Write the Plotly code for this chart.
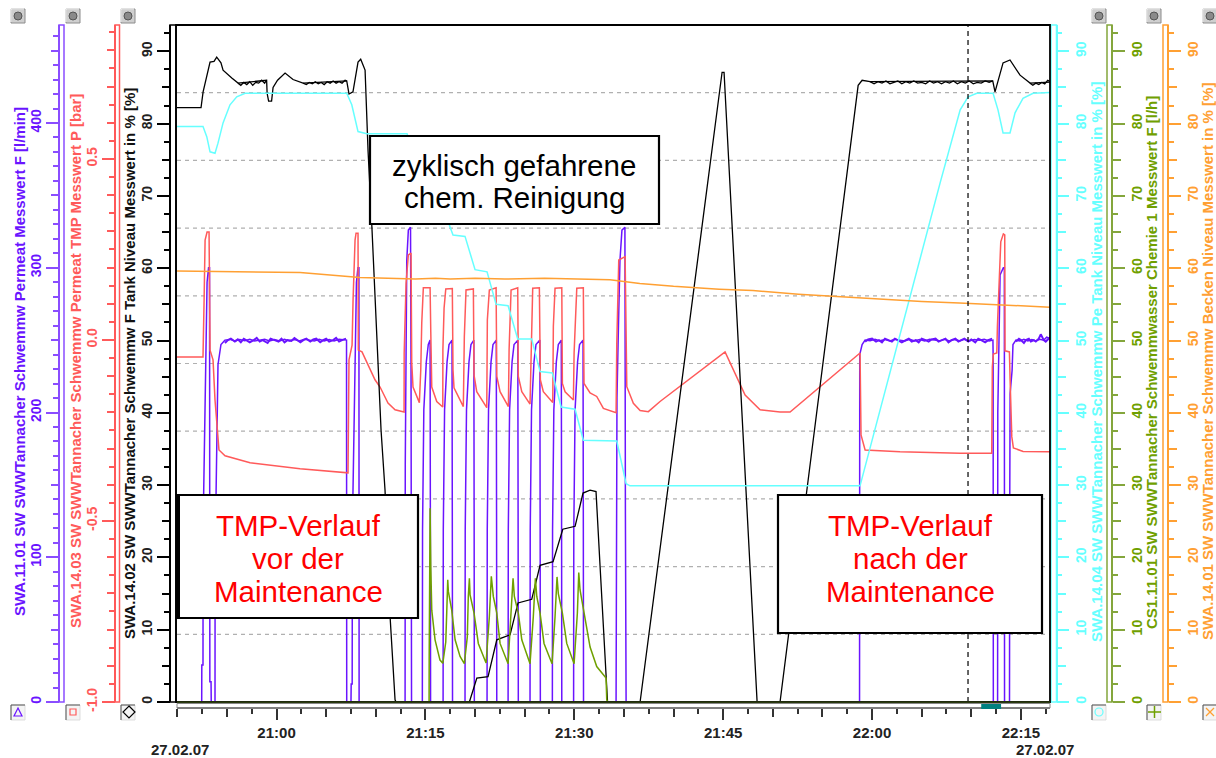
import plotly.graph_objects as go

W, H = 1216, 758
X_RANGE = [-10.03, 77.93]
TOP_PCT = 93.64

# ---- data (time in minutes after 21:00) ----
BLACK_T = [-10.03,-7.61,-7.4,-7.03,-6.7,-6.3,-6.03,-5.6,-5.39,-4.51,-3.88,-1.0,-0.95,-0.8,-0.5,-0.35,0.1,0.86,1.66,2.67,7.07,7.3,7.7,8.21,8.48,8.92,9.09,9.22,9.62,10.03,10.53,10.93,11.44,11.94,12.04,19.43,20.18,21.31,22.19,23.53,24.33,25.71,26.55,27.86,28.84,30.08,30.88,31.59,32.19,32.6,33.27,33.35,36.63,44.89,45.09,48.42,50.73,58.6,59.0,59.8,72.16,72.39,73.2,73.9,74.91,75.92,77.94]
BLACK_V = [82.2,82.2,84.4,86.5,88.5,88.6,89.2,88.4,87.4,86.3,85.6,86.0,84.2,83.1,83.1,85.0,86.0,87.0,86.1,85.6,85.9,84.1,84.4,88.5,88.9,87.4,80.4,76.2,65.3,52.8,37.6,29.3,11.8,0.3,0,0,3.3,3.5,8.6,9.3,13.7,14.2,18.9,19.4,23.9,24.3,28.9,29.3,29.1,18.7,0.3,0,0,87.1,87.1,0,0,85.3,86.0,85.8,85.9,84.4,88.4,88.8,86.7,85.6,85.75]

# Fine noise on the black level plateaus
BLACK_NOISE_A_T = [-3.88,-3.6,-3.3,-3.0,-2.7,-2.4,-2.1,-1.8,-1.5,-1.2,-1.0]
BLACK_NOISE_A_V = [85.6,85.3,85.7,85.4,85.8,85.3,85.7,85.6,86.0,85.6,86.0]
BLACK_NOISE_B_T = [2.67,3.0,3.3,3.6,3.9,4.2,4.5,4.8,5.1,5.4,5.7,6.0,6.3,6.6,6.9,7.07]
BLACK_NOISE_B_V = [85.6,85.4,85.7,85.5,85.8,85.5,85.7,85.4,85.8,85.6,85.9,85.6,85.8,85.6,86.0,85.9]
BLACK_NOISE_C_T = [59.8,60.2,60.6,61.0,61.4,61.8,62.2,62.6,63.0,63.4,63.8,64.2,64.6,65.0,65.4,65.8,66.2,66.6,67.0,67.4,67.8,68.2,68.6,69.0,69.4,69.8,70.2,70.6,71.0,71.4,71.8,72.16]
BLACK_NOISE_C_V = [85.8,85.5,85.8,85.6,85.9,85.5,85.7,85.9,85.5,85.8,85.6,85.9,85.6,85.7,85.5,85.9,85.6,85.8,85.5,85.8,85.6,85.9,85.5,85.8,85.6,85.9,85.5,85.7,85.6,85.9,85.7,85.9]
BLACK_NOISE_D_T = [75.92,76.2,76.5,76.8,77.1,77.4,77.7,77.94]
BLACK_NOISE_D_V = [85.6,85.3,85.6,85.4,85.7,85.5,86.0,85.8]

CYAN_T = [-10.03,-7.41,-7.03,-6.7,-6.2,-5.9,-5.39,-4.69,-4.01,-3.17,7.07,7.58,8.21,9.09,13.15,14.26,15.47,16.78,17.48,17.78,18.99,20.0,21.21,22.12,23.33,24.3,25.71,26.55,27.79,28.67,30.08,30.91,34.28,35.22,35.62,58.79,66.86,67.87,68.88,69.68,70.55,72.19,72.69,73.2,73.9,74.41,75.21,76.22,77.94]
CYAN_V = [79.6,79.6,78.2,76.1,75.9,77.3,80.1,82.6,83.7,84.2,84.2,82.6,78.9,78.6,78.6,73.9,73.6,68.7,65.7,64.6,64.4,59.8,59.5,55.0,54.8,50.2,50.2,45.7,45.5,40.8,40.5,36.2,36.1,30.2,29.9,29.9,71.8,76.8,81.9,83.7,84.2,84.2,81.9,78.7,78.7,81.5,83.5,84.2,84.3]

ORANGE_T = [-10.03,-2,2.37,8.4,12,14,16,17.5,20,23,27,30,33.6,36.6,40,44.6,48,52.6,55,58.7,62,65,68.8,72,75,77.94]
ORANGE_V = [59.6,59.5,59.4,58.7,58.6,58.5,58.6,58.5,58.6,58.5,58.6,58.5,58.4,57.9,57.5,57.1,56.9,56.4,56.2,55.9,55.6,55.4,55.2,55.0,54.8,54.6]

GREEN_T = [-10.03,15.37,15.38,15.47,15.54,15.64,15.97,16.47,16.75,17.05,17.15,17.25,17.31,17.65,17.99,18.49,18.92,19.22,19.32,19.43,19.5,19.9,20.33,21.11,21.44,21.64,21.84,22.19,22.52,23.33,23.6,23.83,23.96,24.36,24.71,25.54,25.87,26.08,26.22,26.55,26.95,27.76,28.06,28.26,28.39,28.8,29.24,29.98,30.31,30.45,30.58,30.98,31.59,32.26,33.2,33.27,33.37,77.94]
GREEN_V = [0,0,6.1,26.8,18.7,12.7,8.6,5.8,5.35,8.3,12.5,16.9,15.3,12.7,8.6,6.3,5.3,9.0,14.6,17.1,14.8,12.3,8.1,5.4,11.8,17.4,14.6,12.3,8.1,5.3,11.8,17.1,14.6,12.3,8.6,5.3,11.8,17.1,14.6,12.3,8.1,5.3,11.8,17.3,15.0,12.3,8.1,5.3,12.3,17.9,15.5,12.3,7.6,4.9,3.3,0.3,0,0]

RED_T = [-10.03,-7.41,-7.3,-7.2,-7.0,-6.8,-6.7,-6.4,-6.2,-6.0,-5.8,-5.19,-2.67,2.37,6.9,7.1,7.2,7.3,7.61,7.71,7.91,8.01,8.21,8.24,8.61,9.92,10.43,11.23,11.94,12.85,12.86,13.05,13.28,13.55,13.62,13.75,14.39,14.53,14.63,14.79,15.47,15.54,15.64,16.14,16.75,16.76,16.88,17.05,17.71,17.78,17.88,18.82,18.92,19.09,19.83,19.9,20.17,21.18,21.24,21.44,22.12,22.19,22.52,23.36,23.43,23.63,24.3,24.36,24.71,25.54,25.64,25.81,26.48,26.58,26.88,27.83,27.89,28.06,28.74,28.8,29.07,29.91,29.98,30.25,30.91,30.98,31.59,32.26,32.93,34.21,34.28,34.48,35.12,35.29,35.95,36.63,37.46,38.64,45.19,47.21,48.72,50.73,51.74,58.79,58.89,59.3,62.82,68.87,72.06,72.12,72.22,72.57,72.63,72.83,72.97,73.23,73.37,73.4,73.84,73.91,74.08,74.24,75.22,77.74,77.94]
RED_V = [-0.047,-0.047,0.110,0.276,0.298,0.298,-0.028,-0.055,-0.166,-0.235,-0.304,-0.320,-0.339,-0.356,-0.367,-0.367,-0.367,-0.055,-0.014,0.110,0.276,0.295,0.295,-0.028,-0.033,-0.110,-0.130,-0.174,-0.193,-0.199,-0.036,0.157,0.235,0.240,-0.063,-0.130,-0.173,-0.083,0.047,0.144,0.144,0.023,-0.130,-0.170,-0.185,-0.028,0.088,0.141,0.142,-0.083,-0.132,-0.184,0.009,0.138,0.141,-0.097,-0.143,-0.187,0.055,0.138,0.144,-0.101,-0.143,-0.184,-0.028,0.138,0.144,-0.101,-0.143,-0.177,-0.018,0.143,0.144,-0.110,-0.143,-0.173,0.037,0.143,0.144,-0.120,-0.143,-0.166,-0.036,0.143,0.144,-0.120,-0.146,-0.156,-0.189,-0.201,-0.010,0.221,0.230,-0.129,-0.175,-0.195,-0.198,-0.170,-0.033,-0.152,-0.193,-0.199,-0.199,-0.036,-0.262,-0.304,-0.309,-0.313,-0.313,-0.074,-0.039,-0.036,0.037,0.193,0.271,0.293,0.290,-0.030,-0.033,-0.110,-0.267,-0.298,-0.308,-0.309,-0.309]

PURPLE_T = [-10.03,-7.54,-7.53,-7.41,-7.4,-7.2,-7.0,-6.85,-6.75,-6.72,-6.6,-6.58,-6.2,-6.19,-5.9,-5.6,-5.2,-4.7,-4.2,-3.7,-3.2,-2.7,-2.2,-1.7,-1.2,-0.7,-0.2,0.3,0.8,1.3,1.8,2.3,2.8,3.3,3.8,4.3,4.8,5.3,5.8,6.3,6.8,7.05,7.07,7.5,7.52,7.62,7.64,7.85,8.05,8.2,8.3,8.32,12.95,12.97,13.05,13.12,13.28,13.5,13.55,13.6,
 14.69,14.71,14.84,15.09,15.29,15.47,15.5,15.52,16.78,16.8,16.93,17.18,17.38,17.68,17.71,17.73,18.99,19.01,19.14,19.39,19.59,19.88,19.91,19.93,21.21,21.23,21.36,21.61,21.81,22.14,22.17,22.19,23.33,23.35,23.48,23.73,23.93,24.31,24.34,24.36,25.54,25.56,25.69,25.94,26.14,26.53,26.56,26.58,27.79,27.81,27.94,28.19,28.39,28.69,28.72,28.74,29.93,29.95,30.08,30.33,30.53,30.88,30.91,30.93,
 34.21,34.23,34.3,34.45,34.6,34.8,35.1,35.15,35.22,58.74,58.76,59.0,59.3,59.8,60.3,60.8,61.3,61.8,62.3,62.8,63.3,63.8,64.3,64.8,65.3,65.8,66.3,66.8,67.3,67.8,68.3,68.8,69.3,69.8,70.3,70.8,71.3,71.8,72.18,72.2,72.22,72.65,72.67,72.9,73.23,73.33,73.35,73.85,73.87,73.91,74.11,74.2,74.5,74.9,75.3,75.7,76.1,76.5,76.9,77.3,77.6,77.94]
PURPLE_V = [0,0,25.6,25.6,120,210,290,300,300,14,14,0,0,100,233,247,250,250.5,249.5,250.4,249.6,250.6,249.4,250,250.6,249.5,250.4,249.4,250.6,249.5,250.4,249.4,250.6,250,249.4,250.6,249.5,250.4,249.4,250.6,250,250,0,0,12.4,12.4,120,210,290,300,300,0,0,164,254,305,326,328,233,0,
 0,119,202,235,247,250,120,0,0,119,202,235,247,250,120,0,0,119,202,235,247,250,120,0,0,119,202,235,247,250,120,0,0,119,202,235,247,250,120,0,0,119,202,235,247,250,120,0,0,119,202,235,247,250,120,0,0,119,202,235,247,250,120,0,
 0,100,210,260,305,326,328,130,0,0,240,247,250,249.5,250.6,249.5,250.4,249.4,250.6,250,249.4,250.6,249.5,250.4,249.4,250.6,250,249.5,250.6,249.4,250.4,249.5,250.6,249.4,250.4,250,250.6,249.4,250,240,0,0,200,295,300,300,0,0,125,213,229,247,250,249.4,250.6,249.5,250.4,249.4,250.6,250,252,251]

# Slightly noisy plateau sections of the permeate flow, which read as a thick band
PLATEAU_A_T = [-5.2,-4.9,-4.6,-4.2,-3.9,-3.6,-3.3,-3.0,-2.7,-2.3,-2.0,-1.7,-1.4,-0.9,-0.6,-0.2,0.2,0.5,0.8,1.1,1.5,1.8,2.1,2.4,2.7,3.0,3.4,3.7,4.0,4.4,4.7,5.0,5.3,5.7,6.0,6.3,6.6,7.0]
PLATEAU_A_V = [248,250,251,249,250.5,248.5,251,250,248.5,250,251.5,249,250,248,251,250,249,251,248.5,250,249.5,251.5,250,248.5,250,251,249,250.5,251,248.5,250,251,249,250,251.5,249,250,251]
PLATEAU_B_T = [59.3,59.6,60.0,60.4,60.7,61.0,61.3,61.7,62.0,62.3,62.6,63.0,63.4,63.7,64.0,64.4,64.7,65.0,65.4,65.7,66.0,66.4,66.7,67.0,67.4,67.7,68.0,68.4,68.7,69.0,69.3,69.7,70.0,70.4,70.7,71.0,71.4,71.7,72.1]
PLATEAU_B_V = [249,250.5,251,249,250,248.5,251,250,249,251,250,248.5,250,251,249,250,248.5,251,250,249,250.5,251,249,250,251,248.5,250,251,249,250,251,249,250.5,248.5,251,250,248.5,250,251]
PLATEAU_C_T = [74.5,74.8,75.0,75.3,75.5,75.8,76.0,76.3,76.5,76.8,77.0,77.3,77.5,77.94]
PLATEAU_C_V = [249,251,250,248,250,251,249,250,249,251,254,250,249,252]

GRID_LEVELS = [9.36, 18.73, 28.09, 37.46, 46.82, 56.18, 65.55, 74.91, 84.28]
CURSOR_T = 69.67
PAN_T = [71.0, 73.0]

PURPLE_TITLE = "SWA.11.01 SW SWWTannacher Schwemmw Permeat Messwert F [l/min]"
RED_TITLE = "SWA.14.03 SW SWWTannacher Schwemmw Permeat TMP Messwert P [bar]"
BLACK_TITLE = "SWA.14.02 SW SWWTannacher Schwemmw F Tank Niveau Messwert in % [%]"
CYAN_TITLE = "SWA.14.04 SW SWWTannacher Schwemmw Pe Tank Niveau Messwert in % [%]"
GREEN_TITLE = "CS1.11.01 SW SWWTannacher Schwemmwasser Chemie 1 Messwert F [l/h]"
ORANGE_TITLE = "SWA.14.01 SW SWWTannacher Schwemmw Becken Niveau Messwert in % [%]"

PURPLE, RED, BLACK, CYAN, GREEN, ORANGE = "#6a14ff", "#ff5a5a", "#000000", "#66ffff", "#6fa000", "#ffa033"
GREEN_AX = "#84a63c"
PURPLE_AX = "#8a4dff"
FONT = "Liberation Sans"

def fx(px): return px / W
def fy(py): return 1 - py / H

DOMAIN_Y = [fy(702), fy(25)]
DOMAIN_X = [fx(177), fx(1050)]

fig = go.Figure()
def line(t, v, color, ax, width=1.5):
    fig.add_trace(go.Scatter(x=t, y=v, mode="lines", yaxis=ax, showlegend=False, cliponaxis=False,
                             line=dict(color=color, width=width, shape="linear"), hoverinfo="skip"))

line(PURPLE_T, PURPLE_V, PURPLE, "y")
line(PLATEAU_A_T, PLATEAU_A_V, PURPLE, "y", 2)
line(PLATEAU_B_T, PLATEAU_B_V, PURPLE, "y", 2)
line(PLATEAU_C_T, PLATEAU_C_V, PURPLE, "y", 2)
line(RED_T, RED_V, RED, "y2")
line(BLACK_T, BLACK_V, BLACK, "y3", 1.3)
line(BLACK_NOISE_A_T, BLACK_NOISE_A_V, BLACK, "y3", 1.3)
line(BLACK_NOISE_B_T, BLACK_NOISE_B_V, BLACK, "y3", 1.3)
line(BLACK_NOISE_C_T, BLACK_NOISE_C_V, BLACK, "y3", 1.3)
line(BLACK_NOISE_D_T, BLACK_NOISE_D_V, BLACK, "y3", 1.3)
line(CYAN_T, CYAN_V, CYAN, "y4")
line(GREEN_T, GREEN_V, GREEN, "y5", 1.5)
line(ORANGE_T, ORANGE_V, ORANGE, "y6")

def axis(rng, color, tick_color, pos, side, tickvals, ticktext, mid, minor, first=False):
    main = dict(domain=DOMAIN_Y, range=rng, anchor="free", position=pos, side=side,
                showgrid=False, zeroline=False, showline=True, linecolor=color, linewidth=1.5,
                ticks="outside", ticklen=12, tickwidth=1.5, tickcolor=color,
                tickmode="array", tickvals=tickvals, ticktext=ticktext, tickangle=-90,
                tickfont=dict(family=FONT, size=14, color=tick_color, weight="bold"),
                minor=dict(ticks="outside", ticklen=5, tickwidth=1.5, tickcolor=color,
                           dtick=minor, tick0=rng[0], showgrid=False))
    twin = dict(domain=DOMAIN_Y, range=rng, anchor="free", position=pos, side=side, overlaying="y",
                showgrid=False, zeroline=False, showline=False, showticklabels=False,
                ticks="outside", ticklen=8, tickwidth=1.5, tickcolor=color, dtick=mid, tick0=rng[0])
    if not first:
        main["overlaying"] = "y"
    return main, twin

PCT_VALS = [0, 10, 20, 30, 40, 50, 60, 70, 80, 90]
PCT_TEXT = [str(v) for v in PCT_VALS]
specs = [
    ([0, 467.7], PURPLE_AX, PURPLE, fx(59), "left", [0, 100, 200, 300, 400], ["0", "100", "200", "300", "400"], 50, 10),
    ([-1, 0.870], RED, RED, fx(115), "left", [-1, -0.5, 0, 0.5], ["-1.0", "-0.5", "0.0", "0.5"], 0.1, 0.05),
    ([0, TOP_PCT], "#000000", "#222222", fx(170), "left", PCT_VALS, PCT_TEXT, 5, 2.5),
    ([0, TOP_PCT], CYAN, CYAN, fx(1056.5), "right", PCT_VALS, PCT_TEXT, 5, 2.5),
    ([0, TOP_PCT], GREEN_AX, GREEN, fx(1112), "right", PCT_VALS, PCT_TEXT, 5, 2.5),
    ([0, TOP_PCT], ORANGE, ORANGE, fx(1168), "right", PCT_VALS, PCT_TEXT, 5, 2.5),
]
layout_axes = {}
for i, s in enumerate(specs):
    main, twin = axis(*s, first=(i == 0))
    layout_axes["yaxis" if i == 0 else f"yaxis{i+1}"] = main
    layout_axes[f"yaxis{i+7}"] = twin
    fig.add_trace(go.Scatter(x=[None], y=[None], yaxis=f"y{i+7}", showlegend=False, hoverinfo="skip"))

X_TICKS = [0, 15, 30, 45, 60, 75]
X_TEXT = ["21:00", "21:15", "21:30", "21:45", "22:00", "22:15"]
layout_axes["xaxis"] = dict(domain=DOMAIN_X, range=X_RANGE, anchor="free", position=fy(708),
                            showgrid=False, zeroline=False, showline=True, linecolor="#777777", linewidth=1.5,
                            ticks="outside", ticklen=11, tickwidth=1.5, tickcolor="#333333",
                            tickmode="array", tickvals=X_TICKS, ticktext=X_TEXT,
                            tickfont=dict(family=FONT, size=15, color="#222222", weight="bold"),
                            minor=dict(ticks="outside", ticklen=5, tickwidth=1.5, tickcolor="#333333",
                                       dtick=2.5, tick0=0, showgrid=False))
layout_axes["xaxis2"] = dict(domain=DOMAIN_X, range=X_RANGE, anchor="free", position=fy(708), overlaying="x",
                             showgrid=False, zeroline=False, showline=False, showticklabels=False,
                             ticks="outside", ticklen=8, tickwidth=1.5, tickcolor="#333333", dtick=5, tick0=0)
fig.add_trace(go.Scatter(x=[None], y=[None], xaxis="x2", yaxis="y3", showlegend=False, hoverinfo="skip"))

shapes = []
def rect(x0, y0, x1, y1, color="#000", width=1, fill=None):
    shapes.append(dict(type="rect", xref="paper", yref="paper", x0=fx(x0), x1=fx(x1), y0=fy(y0), y1=fy(y1),
                       line=dict(color=color, width=width), fillcolor=fill))
def seg(x0, y0, x1, y1, color="#000", width=1):
    shapes.append(dict(type="line", xref="paper", yref="paper", x0=fx(x0), x1=fx(x1), y0=fy(y0), y1=fy(y1),
                       line=dict(color=color, width=width)))

# gridlines and cursor
for g in GRID_LEVELS:
    shapes.append(dict(type="line", xref="x domain", yref="y3", x0=0, x1=1, y0=g, y1=g, layer="below",
                       line=dict(color="#b0b0b0", width=1.2, dash="4px,4px")))
shapes.append(dict(type="line", xref="x", yref="paper", x0=CURSOR_T, x1=CURSOR_T, y0=DOMAIN_Y[0], y1=DOMAIN_Y[1],
                   line=dict(color="#000", width=1.2, dash="5px,4px")))
# double-line axis bars
rect(59, 25, 64, 702, PURPLE_AX, 1.5)
rect(115, 25, 119.5, 702, RED, 1.5)
rect(170, 25, 176, 702, "#000", 1.5)
rect(1051, 25, 1056.5, 702, CYAN, 1.5)
rect(1107, 25, 1112, 702, GREEN_AX, 1.5)
rect(1163, 25, 1168, 702, ORANGE, 1.5)
# frame and time strip
rect(176, 25, 1050, 702, "#000", 1.8)
seg(177, 702.5, 1050, 702.5, "#2a3a10", 2.5)
rect(177, 703.5, 1050, 708, "#888", 1)
shapes.append(dict(type="rect", xref="x", yref="paper", x0=PAN_T[0], x1=PAN_T[1], y0=fy(709), y1=fy(704),
                   line=dict(width=0), fillcolor="#008080"))

# note boxes
rect(370, 136, 659, 224, "#000", 2.2, "#fff")
rect(177, 495, 418, 618, "#000", 2.2, "#fff")
seg(178.5, 495, 178.5, 618, "#000", 3)
rect(778, 495, 1042, 633, "#000", 2.2, "#fff")

# corner buttons
BTN_X = [18, 73, 128, 1099, 1154, 1210]
for bx in BTN_X:
    rect(bx - 7, 9, bx + 7, 23, "#8c8c8c", 1, "#cfcfcf")
    seg(bx - 7, 9, bx + 6, 9, "#ffffff", 1)
    seg(bx - 7, 9, bx - 7, 22, "#ffffff", 1)
    shapes.append(dict(type="circle", xref="paper", yref="paper", x0=fx(bx - 4), x1=fx(bx + 4), y0=fy(12), y1=fy(20),
                       line=dict(color="#555", width=1), fillcolor="#8a8a8a"))
    rect(bx - 7, 705, bx + 7, 720, "#dddddd", 1, "#f4f4f4")
    seg(bx - 7, 705, bx + 7, 705, "#555", 1)
    seg(bx - 7, 705, bx - 7, 720, "#555", 1)

def poly(pts, color, width=1.2):
    path = "M " + " L ".join(f"{fx(x)},{fy(y)}" for x, y in pts) + " Z"
    shapes.append(dict(type="path", xref="paper", yref="paper", path=path, line=dict(color=color, width=width)))

poly([(18, 708), (22, 716), (14, 716)], PURPLE)
rect(70, 709, 76, 715, RED, 1.2)
poly([(129, 706), (135, 712), (129, 718), (123, 712)], "#000")
shapes.append(dict(type="circle", xref="paper", yref="paper", x0=fx(1095), x1=fx(1103), y0=fy(708), y1=fy(716),
                   line=dict(color=CYAN, width=1.2)))
seg(1148, 712, 1161, 712, GREEN, 1.5); seg(1154.5, 706, 1154.5, 718, GREEN, 1.5)
seg(1206, 708, 1214, 716, ORANGE, 1.2); seg(1206, 716, 1214, 708, ORANGE, 1.2)

ann = []
def vtitle(x, yc, text, color):
    ann.append(dict(xref="paper", yref="paper", x=fx(x), y=fy(yc), text=text, textangle=-90, showarrow=False,
                    xanchor="center", yanchor="middle", font=dict(family=FONT, size=15, color=color)))
def label(x, y, text, size=29, color="#000", bold=False):
    ann.append(dict(xref="paper", yref="paper", x=fx(x), y=fy(y), text=f"<b>{text}</b>" if bold else text,
                    showarrow=False, xanchor="center", yanchor="middle", font=dict(family=FONT, size=size, color=color)))

vtitle(20, 362, f"<b>{PURPLE_TITLE}</b>", PURPLE)
vtitle(75, 361, f"<b>{RED_TITLE}</b>", RED)
vtitle(129, 364, f"<b>{BLACK_TITLE}</b>", "#111")
vtitle(1097, 362, f"<b>{CYAN_TITLE}</b>", CYAN)
vtitle(1152, 363, f"<b>{GREEN_TITLE}</b>", GREEN)
vtitle(1208, 362, f"<b>{ORANGE_TITLE}</b>", ORANGE)

label(514, 165, "zyklisch gefahrene", 29.5)
label(514, 197, "chem. Reinigung", 29.5)
for yy, txt in zip([525, 558, 591], ["TMP-Verlauf", "vor der", "Maintenance"]):
    label(298, yy, txt, 29.5, "#ff0000")
for yy, txt in zip([525, 558, 591], ["TMP-Verlauf", "nach der", "Maintenance"]):
    label(910, yy, txt, 29.5, "#ff0000")
label(180, 749, "27.02.07", 15, "#222", True)
label(1045, 749, "27.02.07", 15, "#222", True)

fig.update_layout(width=W, height=H, autosize=False, margin=dict(l=0, r=0, t=0, b=0, autoexpand=False),
                  paper_bgcolor="white", plot_bgcolor="white", showlegend=False,
                  shapes=shapes, annotations=ann, **layout_axes)
for t in fig.data:
    if t.xaxis is None:
        t.xaxis = "x"

fig.write_html("out.html", config={"displayModeBar": False, "responsive": False},
               default_width=f"{W}px", default_height=f"{H}px",
               post_script="document.body.style.margin='0';document.documentElement.style.overflow='hidden';")
